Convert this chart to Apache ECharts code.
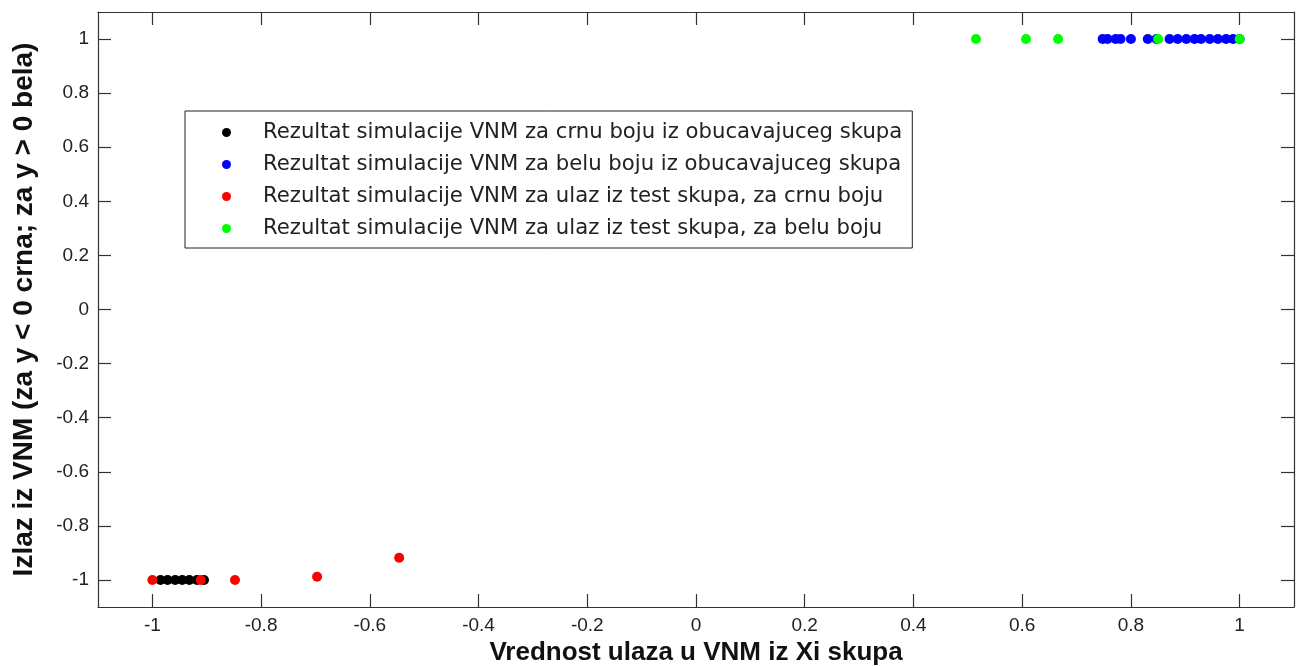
<!DOCTYPE html>
<html>
<head>
<meta charset="utf-8">
<script src="https://cdn.jsdelivr.net/npm/echarts@6/dist/echarts.min.js"></script>
<style>
html,body{margin:0;padding:0;background:#fff;}
#chart{width:1296px;height:666px;}
</style>
</head>
<body>
<div id="chart"></div>
<script>
// Series data [x, y]
const blackTrain = [[-0.985,-1],[-0.972,-1],[-0.958,-1],[-0.945,-1],[-0.932,-1],[-0.918,-1],[-0.905,-1]];
const blueTrain = [[0.748,1],[0.757,1],[0.772,1],[0.781,1],[0.800,1],[0.831,1],[0.847,1],[0.871,1],[0.886,1],[0.902,1],[0.917,1],[0.929,1],[0.945,1],[0.960,1],[0.975,1],[0.988,1],[1.0,1]];
const redTest = [[-1.0,-1],[-0.911,-1],[-0.848,-1],[-0.697,-0.988],[-0.546,-0.918]];
const greenTest = [[0.515,1],[0.607,1],[0.666,1],[0.850,1],[1.0,1]];

const seriesNames = [
  'Rezultat simulacije VNM za crnu boju iz obucavajuceg skupa',
  'Rezultat simulacije VNM za belu boju iz obucavajuceg skupa',
  'Rezultat simulacije VNM za ulaz iz test skupa, za crnu boju',
  'Rezultat simulacije VNM za ulaz iz test skupa, za belu boju'
];
const seriesColors = ['#000000', '#0000ff', '#ff0000', '#00ff00'];

const xTicks = [-1, -0.8, -0.6, -0.4, -0.2, 0, 0.2, 0.4, 0.6, 0.8, 1];
const yTicks = [-1, -0.8, -0.6, -0.4, -0.2, 0, 0.2, 0.4, 0.6, 0.8, 1];
const xTitle = 'Vrednost ulaza u VNM iz Xi skupa';
const yTitle = 'Izlaz iz VNM (za y < 0 crna; za y > 0 bela)';

const FONT = '"Liberation Sans", Arial, sans-serif';
const LEGEND_FONT = '"DejaVu Sans", "Liberation Sans", sans-serif';
const axisColor = '#333';

function baseAxis(ticks, showLabel, extra) {
  return Object.assign({
    type: 'value',
    min: -1.1,
    max: 1.1,
    splitLine: { show: false },
    axisLine: { show: true, onZero: false, lineStyle: { color: axisColor, width: 1.2 } },
    axisTick: { show: true, inside: true, length: 13, customValues: ticks, lineStyle: { color: axisColor, width: 1.2 } },
    axisLabel: { show: showLabel, customValues: ticks, color: '#222', fontSize: 19, fontFamily: FONT }
  }, extra);
}

const chart = echarts.init(document.getElementById('chart'), null, { renderer: 'canvas' });
const datasets = [blackTrain, blueTrain, redTest, greenTest];

chart.setOption({
  animation: false,
  backgroundColor: '#fff',
  grid: { left: 98, right: 2, top: 12, bottom: 59, containLabel: false, outerBoundsMode: 'none' },
  xAxis: [
    baseAxis(xTicks, true, {
      position: 'bottom',
      name: xTitle, nameLocation: 'middle', nameGap: 31,
      nameTextStyle: { fontSize: 26, fontWeight: 'bold', color: '#111', fontFamily: FONT },
      axisLabel: { show: true, customValues: xTicks, color: '#222', fontSize: 19, fontFamily: FONT, margin: 9 }
    }),
    baseAxis(xTicks, false, { position: 'top' })
  ],
  yAxis: [
    baseAxis(yTicks, true, {
      position: 'left',
      name: yTitle, nameLocation: 'middle', nameGap: 60, nameRotate: 90,
      nameTextStyle: { fontSize: 28, fontWeight: 'bold', color: '#111', fontFamily: FONT },
      axisLabel: { show: true, customValues: yTicks, color: '#222', fontSize: 19, fontFamily: FONT, margin: 9 }
    }),
    baseAxis(yTicks, false, { position: 'right' })
  ],
  legend: {
    orient: 'vertical',
    left: 185,
    top: 111,
    padding: [11, 10, 9, 37],
    itemGap: 11,
    itemWidth: 9,
    itemHeight: 9,
    backgroundColor: '#fff',
    borderColor: '#222',
    borderWidth: 1,
    borderRadius: 0,
    data: seriesNames.map(n => ({ name: n, icon: 'circle' })),
    textStyle: { fontSize: 21.2, lineHeight: 20, color: '#222', fontFamily: LEGEND_FONT, padding: [0, 0, 0, 27] }
  },
  series: datasets.map((d, i) => ({
    type: 'scatter',
    name: seriesNames[i],
    data: d,
    symbol: 'circle',
    symbolSize: 10,
    itemStyle: { color: seriesColors[i], opacity: 1 },
    z: 2 + i
  }))
});
</script>
</body>
</html>
